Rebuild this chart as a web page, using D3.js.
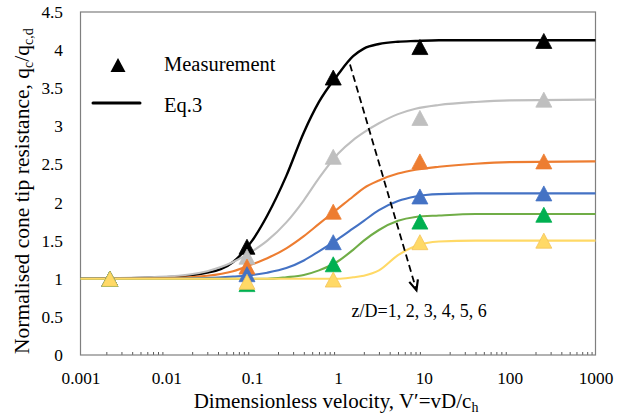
<!DOCTYPE html>
<html><head><meta charset="utf-8">
<script src="https://cdn.jsdelivr.net/npm/d3@7"></script>
<style>
body{margin:0;background:#fff}
svg{display:block}
text{font-family:"Liberation Serif","Times New Roman",serif;fill:#000}
</style>
</head><body><svg id="c" width="627" height="417"></svg>
<script>
// ---------- data ----------
const seriesNames = ["z/D=1", "z/D=2", "z/D=3", "z/D=4", "z/D=5", "z/D=6"];
const lineColors   = ["#000000", "#bfbfbf", "#ed7d31", "#4472c4", "#70ad47", "#ffd966"];
const markerColors = ["#000000", "#bfbfbf", "#ed7d31", "#4472c4", "#00b050", "#ffd966"];

// Measurements (triangles)
const vMeas = [0.0022, 0.087, 0.88, 9, 250];
const meas1 = [1.00, 1.42, 3.64, 4.04, 4.12];
const meas2 = [1.00, 1.29, 2.60, 3.11, 3.35];
const meas3 = [1.00, 1.16, 1.88, 2.54, 2.54];
const meas4 = [1.00, 1.06, 1.48, 2.08, 2.12];
const meas5 = [1.00, 0.93, 1.19, 1.75, 1.84];
const meas6 = [1.00, 0.96, 0.99, 1.48, 1.50];

// Eq.3 curves
const vCurve = [0.001, 0.01, 0.03, 0.06, 0.1, 0.15, 0.25, 0.4, 0.6, 1, 1.5, 2, 3, 5, 8, 15, 40, 100, 1000];
const curve1 = [1.00, 1.02, 1.08, 1.22, 1.50, 1.83, 2.35, 2.92, 3.32, 3.68, 3.92, 4.02, 4.08, 4.11, 4.12, 4.13, 4.13, 4.13, 4.13];
const curve2 = [1.00, 1.03, 1.10, 1.22, 1.36, 1.50, 1.74, 2.03, 2.32, 2.64, 2.82, 2.92, 3.04, 3.16, 3.23, 3.28, 3.32, 3.34, 3.35];
const curve3 = [1.00, 1.01, 1.04, 1.10, 1.19, 1.27, 1.40, 1.56, 1.72, 1.92, 2.08, 2.19, 2.29, 2.38, 2.43, 2.47, 2.51, 2.53, 2.54];
const curve4 = [1.00, 1.00, 1.01, 1.03, 1.05, 1.08, 1.14, 1.24, 1.36, 1.52, 1.66, 1.76, 1.90, 2.02, 2.08, 2.11, 2.12, 2.12, 2.12];
const curve5 = [1.00, 1.00, 1.00, 1.00, 1.00, 1.00, 1.02, 1.05, 1.11, 1.23, 1.38, 1.50, 1.64, 1.76, 1.81, 1.83, 1.85, 1.85, 1.85];
const curve6 = [1.00, 1.00, 1.00, 1.00, 1.00, 1.00, 1.00, 1.00, 1.00, 1.00, 1.02, 1.04, 1.11, 1.31, 1.43, 1.49, 1.50, 1.50, 1.50];

const xTickLabels = [0.001, 0.01, 0.1, 1, 10, 100, 1000];
const yTickLabels = [0, 0.5, 1, 1.5, 2, 2.5, 3, 3.5, 4, 4.5];

const arrowFrom = [1.38, 3.81];
const arrowTo   = [8.2, 0.85];
const annotationText = "z/D=1, 2, 3, 4, 5, 6";
const legendLabels = ["Measurement", "Eq.3"];

// ---------- chart ----------
const measAll = [meas1, meas2, meas3, meas4, meas5, meas6];
const curveAll = [curve1, curve2, curve3, curve4, curve5, curve6];

const svg = d3.select("#c");
const L = 80.5, R = 595.5, T = 12, B = 355;
const x = d3.scaleLog().domain([0.001, 1000]).range([L, R]);
const y = d3.scaleLinear().domain([0, 4.5]).range([B, T]);

// minor ticks (2..9 in each decade), pointing inside
const minor = [];
for (let e = -3; e < 3; e++) for (let k = 2; k <= 9; k++) minor.push(k * Math.pow(10, e));
svg.append("g").attr("transform", `translate(0,${B})`)
  .call(d3.axisBottom(x).tickValues(minor).tickFormat("").tickSize(-3).tickSizeOuter(0))
  .call(g => g.select(".domain").remove())
  .call(g => g.selectAll("line").attr("stroke", "#595959"));

// x labels
svg.append("g").attr("transform", `translate(0,${B})`)
  .call(d3.axisBottom(x).tickValues(xTickLabels).tickFormat(d => String(d)).tickSize(0).tickPadding(17))
  .call(g => g.select(".domain").remove())
  .call(g => g.selectAll("text").attr("font-size", 17.3).attr("font-family", "Liberation Serif").attr("fill", "#000"));

// y labels
svg.append("g").attr("transform", `translate(${L},0)`)
  .call(d3.axisLeft(y).tickValues(yTickLabels).tickFormat(d => String(d)).tickSize(0).tickPadding(17.5))
  .call(g => g.select(".domain").remove())
  .call(g => g.selectAll("text").attr("font-size", 17.3).attr("font-family", "Liberation Serif").attr("fill", "#000"));

// plot frame
svg.append("rect").attr("x", L).attr("y", T).attr("width", R - L).attr("height", B - T)
  .attr("fill", "none").attr("stroke", "#7f7f7f").attr("stroke-width", 1.2);

// curves
const line = d3.line().x(d => x(d[0])).y(d => y(d[1])).curve(d3.curveMonotoneX);
curveAll.forEach((c, i) => {
  svg.append("path").datum(vCurve.map((v, j) => [v, c[j]]))
    .attr("d", line).attr("fill", "none")
    .attr("stroke", lineColors[i]).attr("stroke-width", i === 0 ? 2.4 : 2.1)
    .attr("stroke-linejoin", "round");
});

// markers
const tri = "M0,-7.5L8,7.5L-8,7.5Z";
measAll.forEach((m, i) => {
  svg.append("g").selectAll("path").data(vMeas.map((v, j) => [v, m[j]])).join("path")
    .attr("d", tri)
    .attr("transform", d => `translate(${x(d[0])},${y(d[1])})`)
    .attr("fill", markerColors[i])
    .attr("stroke", i === 5 ? "#f4c35a" : markerColors[i]).attr("stroke-width", 0.8);
});

// dashed arrow
const ax1 = x(arrowFrom[0]), ay1 = y(arrowFrom[1]), ax2 = x(arrowTo[0]), ay2 = y(arrowTo[1]);
svg.append("line").attr("x1", ax1).attr("y1", ay1).attr("x2", ax2).attr("y2", ay2)
  .attr("stroke", "#000").attr("stroke-width", 1.8).attr("stroke-dasharray", "7,4");
const ang = Math.atan2(ay2 - ay1, ax2 - ax1);
const hl = 11, spread = 0.42;
const head = [
  [ax2 - hl * Math.cos(ang - spread), ay2 - hl * Math.sin(ang - spread)],
  [ax2, ay2],
  [ax2 - hl * Math.cos(ang + spread), ay2 - hl * Math.sin(ang + spread)]
];
svg.append("path").attr("d", d3.line()(head)).attr("fill", "none")
  .attr("stroke", "#000").attr("stroke-width", 2.2).attr("stroke-linejoin", "miter");

svg.append("text").attr("x", 351.5).attr("y", 316.5).attr("font-size", 18).text(annotationText);

// legend
svg.append("path").attr("d", "M0,-7L7.5,7L-7.5,7Z").attr("transform", "translate(118,65)").attr("fill", "#000");
svg.append("text").attr("x", 164).attr("y", 71).attr("font-size", 20.5).text(legendLabels[0]);
svg.append("line").attr("x1", 93).attr("x2", 140).attr("y1", 103).attr("y2", 103)
  .attr("stroke", "#000").attr("stroke-width", 3).attr("stroke-linecap", "round");
svg.append("text").attr("x", 164).attr("y", 112).attr("font-size", 20.5).text(legendLabels[1]);

// axis titles
const xt = svg.append("text").attr("x", 336).attr("y", 407.5).attr("font-size", 21).attr("text-anchor", "middle");
xt.append("tspan").text("Dimensionless velocity, V\u2032=vD/c");
xt.append("tspan").attr("font-size", 14).attr("dy", 4).text("h");

const yt = svg.append("text").attr("transform", "translate(28.5,354) rotate(-90)").attr("font-size", 21.5);
yt.append("tspan").text("Normalised cone tip resistance, q");
yt.append("tspan").attr("font-size", 14).attr("dy", 4.5).text("c");
yt.append("tspan").attr("dy", -4.5).text("/q");
yt.append("tspan").attr("font-size", 14).attr("dy", 4.5).text("c,d");
</script>
</body></html>
